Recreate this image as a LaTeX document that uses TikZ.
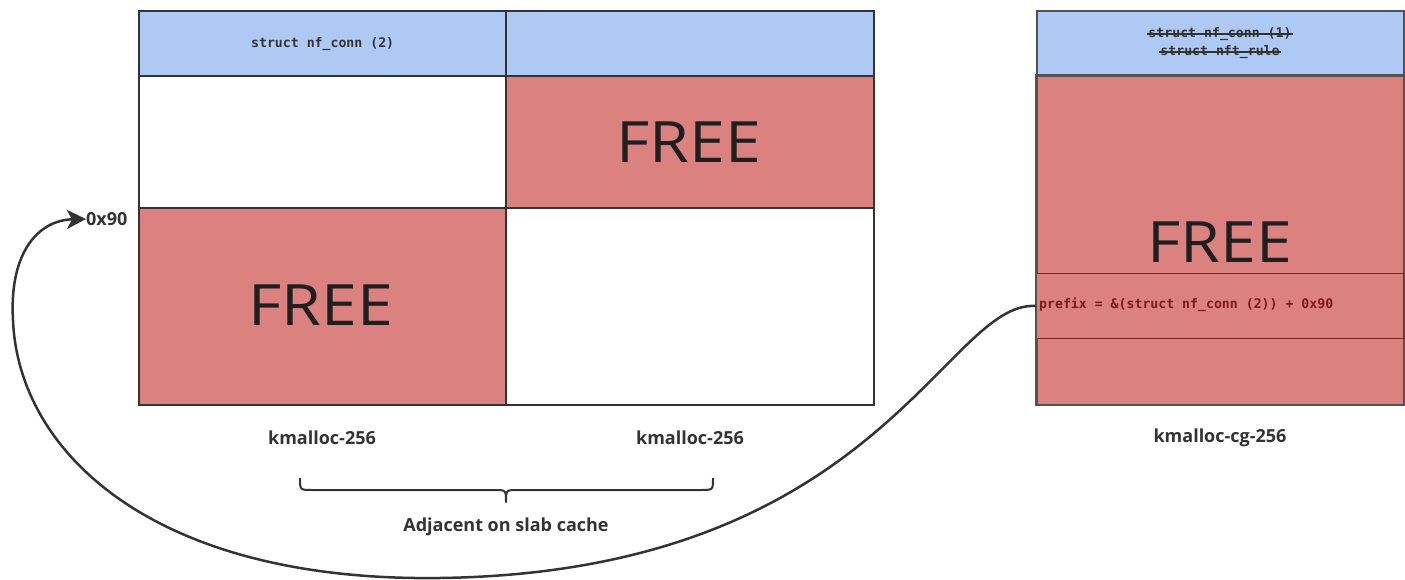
\documentclass[tikz,border=0pt]{standalone}
\usepackage{fontspec}
\setmainfont{Open Sans}
\setmonofont{DejaVu Sans Mono}
\newfontfamily\freefont[FakeStretch=1.13]{Open Sans}
\usetikzlibrary{arrows.meta,calc}
\definecolor{hdrblue}{RGB}{174,202,244}
\definecolor{freered}{RGB}{219,129,127}
\definecolor{lineC}{RGB}{51,51,51}
\definecolor{bandline}{RGB}{130,35,35}
\definecolor{pfxtext}{RGB}{130,25,25}
\begin{document}
\begin{tikzpicture}[x=1pt,y=-1pt,
  cell/.style={draw=lineC, line width=2.3pt, inner sep=0pt, anchor=north west},
  rcell/.style={draw=lineC!85, line width=1.6pt, inner sep=0pt, anchor=north west},
  free/.style={font=\freefont\fontsize{57}{60}\selectfont, text=black!88},
  code/.style={font=\ttfamily\bfseries\fontsize{13.2}{16}\selectfont, text=lineC},
  lbl/.style={font=\bfseries\fontsize{18}{21}\selectfont, text=lineC},
  strike/.style={draw=lineC, line width=1.3pt},
  curve/.style={draw=lineC, line width=2.5pt}]
\fill[white] (0,0) rectangle (1405,580);
\useasboundingbox (0,0) rectangle (1405,580);
% left slab
\node[cell, fill=hdrblue, minimum width=367pt, minimum height=65pt] (h1) at (138,10) {};
\node[cell, fill=hdrblue, minimum width=368pt, minimum height=65pt] (h2) at (505,10) {};
\node[cell, fill=white, minimum width=367pt, minimum height=132pt] (c1) at (138,75) {};
\node[cell, fill=freered, minimum width=368pt, minimum height=132pt] (c2) at (505,75) {};
\node[cell, fill=freered, minimum width=367pt, minimum height=197pt] (c3) at (138,207) {};
\node[cell, fill=white, minimum width=368pt, minimum height=197pt] (c4) at (505,207) {};
\node[code] (t1) at (h1.center) {struct nf\_conn (2)};
\node[free] (f1) at (689,142) {FREE};
\node[free] (f2) at (321,305) {FREE};
% right slab
\node[rcell, fill=hdrblue, minimum width=367pt, minimum height=65pt] (rh) at (1036,10) {};
\node[rcell, fill=freered, minimum width=367pt, minimum height=329pt] (rb) at (1036,75) {};
\node[draw=bandline, line width=1pt, fill=freered, inner sep=0pt, anchor=north west, minimum width=367pt, minimum height=65pt] (band) at (1036,273) {};
\draw[rcell] (rb.north west) rectangle (rb.south east);
\node[code, inner sep=0pt, anchor=base] (t2a) at (1220,38) {struct nf\_conn (1)};
\node[code, inner sep=0pt, anchor=base] (t2b) at (1220,56) {struct nft\_rule};
\draw[strike] ($(t2a.base west)+(-1,-4)$) -- ($(t2a.base east)+(1,-4)$);
\draw[strike] ($(t2b.base west)+(-1,-4)$) -- ($(t2b.base east)+(1,-4)$);
\node[free] (f3) at (1220,242) {FREE};
\node[code, text=pfxtext, anchor=west, inner sep=0pt] (pfx) at (1039,305) {prefix = \&(struct nf\_conn (2)) + 0x90};
% labels
\node[lbl] (k1) at (322,438) {kmalloc-256};
\node[lbl] (k2) at (690,438) {kmalloc-256};
\node[lbl] (k3) at (1220,438) {kmalloc-cg-256};
\node[lbl] (adj) at (506,527) {Adjacent on slab cache};
\node[lbl, anchor=west, inner sep=0pt] (hex) at (86,219) {0x90};
% brace
\draw[draw=lineC, line width=2pt, line join=round]
  (300,478) .. controls (300,490) .. (312,490) -- (494,490)
  .. controls (506,490) .. (506,502)
  .. controls (506,490) .. (518,490) -- (701,490)
  .. controls (713,490) .. (713,478);
% pointer curve
\coordinate (p0) at (band.west);
\coordinate (pm) at (440,578);
\coordinate (pl) at (13,320);
\draw[curve, -{Stealth[length=19pt,width=19pt,inset=5pt]}]
  (p0) .. controls (945,300) and (880,572) .. (pm)
  .. controls (150,582) and (18,450) .. (pl)
  .. controls (9,250) and (40,220) .. (hex.west);
\end{tikzpicture}
\end{document}
